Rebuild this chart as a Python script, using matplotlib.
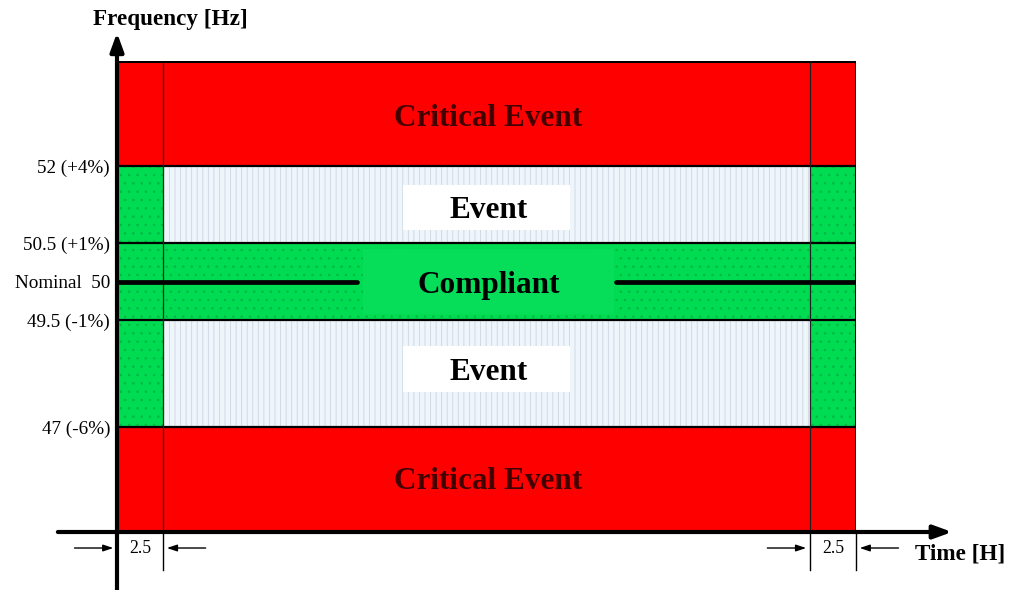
import numpy as np
import matplotlib
matplotlib.use("Agg")
import matplotlib.pyplot as plt
from matplotlib.patches import Rectangle

# ---- data ----
freq_levels = [47.0, 49.5, 50.0, 50.5, 52.0]          # Hz thresholds
freq_labels = ["47 (-6%)", "49.5 (-1%)", "Nominal  50", "50.5 (+1%)", "52 (+4%)"]
y_lo, y_hi = 44.0, 55.0                                # schematic frequency extent
t_start, t_end = 0.0, 40.0                             # schematic time extent (H)
t_window = 2.5                                         # H window at each end
window_label = "2.5"
zone_titles = ["Critical Event", "Event", "Compliant", "Event", "Critical Event"]

# schematic (non-linear) frequency scale: breakpoints -> display position
scale_f = [44.0, 47.0, 49.5, 50.0, 50.5, 52.0, 55.0]
scale_p = [0.0, 105.0, 212.0, 250.0, 289.0, 366.0, 471.0]
fwd = lambda f: np.interp(f, scale_f, scale_p)
inv = lambda p: np.interp(p, scale_p, scale_f)

RED = "#FF0000"
GREEN = "#00DC52"
GREEN_DOT = "#00B845"
BLUE = "#EEF5FB"
DARKRED = "#420000"
serif = ["Liberation Serif", "DejaVu Serif"]

W, H = 1016, 590
fig = plt.figure(figsize=(W / 100, H / 100), dpi=100)
ax = fig.add_axes([117 / W, (H - 532) / H, (856 - 117) / W, (532 - 61) / H])
ax.set_yscale("function", functions=(fwd, inv))
ax.set_xlim(t_start, t_end)
ax.set_ylim(y_lo, y_hi)
for s in ax.spines.values():
    s.set_visible(False)
ax.set_xticks([])
ax.set_yticks(freq_levels)
ax.set_yticklabels(freq_labels, fontfamily=serif, fontsize=13.8)
ax.tick_params(axis="y", length=0, pad=5)
ax.yaxis.set_minor_locator(matplotlib.ticker.NullLocator())

f47, f495, f50, f505, f52 = freq_levels
tl, tr = t_start + t_window, t_end - t_window

def rect(x0, x1, y0, y1, fc, hatch=None, hc=None, z=1):
    r = Rectangle((x0, y0), x1 - x0, y1 - y0, facecolor=fc, edgecolor=hc if hc else "none",
                  hatch=hatch, linewidth=0, zorder=z)
    ax.add_patch(r)

plt.rcParams["hatch.linewidth"] = 0.6
# red bands
rect(t_start, t_end, f52, y_hi, RED)
rect(t_start, t_end, y_lo, f47, RED)
# event (light blue dotted)
rect(tl, tr, f505, f52, BLUE, hatch="|||", hc="#CDD5DE")
rect(tl, tr, f47, f495, BLUE, hatch="|||", hc="#CDD5DE")
# compliant bands
rect(t_start, t_end, f495, f505, GREEN, hatch="..", hc=GREEN_DOT)
rect(t_start, tl, f47, f52, GREEN, hatch="..", hc=GREEN_DOT)
rect(tr, t_end, f47, f52, GREEN, hatch="..", hc=GREEN_DOT)
# plain label backgrounds
rect(13.3, 26.9, inv(fwd(f495) + 6), inv(fwd(f505) - 6), "#06DE5A", z=2)
ev_boxes = [(inv(347), inv(302)), (inv(186), inv(140))]
for top, bot in ev_boxes:
    rect(15.5, 24.5, bot, top, "white", z=2)

# horizontal threshold lines
for f in [f47, f495, f505, f52]:
    ax.plot([t_start, t_end], [f, f], color="black", lw=1.6, zorder=3)
# vertical window lines
for t in [tl, tr]:
    ax.plot([t, t], [y_lo, y_hi], color="#202020", lw=0.9, zorder=3)

# nominal line (interrupted by label)
ax.plot([t_start, 13.0], [f50, f50], color="black", lw=3.4, zorder=4, solid_capstyle="round")
ax.plot([27.0, t_end], [f50, f50], color="black", lw=3.4, zorder=4, solid_capstyle="round")

# box outline
ax.plot([t_start, t_end, t_end], [y_hi, y_hi, y_lo], color="black", lw=2.2, zorder=5)

# zone titles
xc = 20.1
kw = dict(ha="center", va="center_baseline", fontfamily=serif, fontweight="bold",
          fontsize=22.5, zorder=6)
ax.text(xc, inv(532 - 115), zone_titles[0], color=DARKRED, **kw)
ax.text(xc, inv(532 - 478), zone_titles[4], color=DARKRED, **kw)
ax.text(xc, inv(532 - 207), zone_titles[1], color="black", **kw)
ax.text(xc, inv(532 - 369), zone_titles[3], color="black", **kw)
ax.text(xc, f50, zone_titles[2], color="black", **kw)

# axes with arrows (axes-fraction coordinates)
tA = ax.transAxes
ax.annotate("", xy=(1.13, 0.0), xytext=(-0.08, 0.0), xycoords=tA, textcoords=tA,
            arrowprops=dict(arrowstyle="-|>,head_length=1.1,head_width=0.4", color="black",
                            lw=3, shrinkA=0, shrinkB=0), annotation_clip=False, zorder=7)
ax.annotate("", xy=(0.0, 1.06), xytext=(0.0, -0.13), xycoords=tA, textcoords=tA,
            arrowprops=dict(arrowstyle="-|>,head_length=1.1,head_width=0.4", color="black",
                            lw=3, shrinkA=0, shrinkB=0), annotation_clip=False, zorder=7)
fig.text(170 / W, 1 - 19 / H, "Frequency [Hz]", ha="center", va="center", fontfamily=serif,
         fontweight="bold", fontsize=16.7)
fig.text(960 / W, 1 - 554 / H, "Time [H]", ha="center", va="center", fontfamily=serif,
         fontweight="bold", fontsize=16.7)

# window dimension markers below the axis
xT = ax.get_xaxis_transform()
for t in [tl, tr, t_end]:
    ax.plot([t, t], [0, -0.08], transform=xT, color="black", lw=1.0, clip_on=False, zorder=7)
ym = -0.034
dx = 2.3
for a, b in [(t_start, tl), (tr, t_end)]:
    ax.text((a + b) / 2, ym, window_label, transform=xT, ha="center", va="center",
            fontfamily=serif, fontsize=12.7)
    ax.annotate("", xy=(a - 0.2, ym), xytext=(a - dx, ym), xycoords=xT, textcoords=xT,
                arrowprops=dict(arrowstyle="-|>,head_length=0.6,head_width=0.2", color="black",
                                lw=1.0, shrinkA=0, shrinkB=0), annotation_clip=False)
    ax.annotate("", xy=(b + 0.2, ym), xytext=(b + dx, ym), xycoords=xT, textcoords=xT,
                arrowprops=dict(arrowstyle="-|>,head_length=0.6,head_width=0.2", color="black",
                                lw=1.0, shrinkA=0, shrinkB=0), annotation_clip=False)

fig.savefig("out.png", dpi=100)
